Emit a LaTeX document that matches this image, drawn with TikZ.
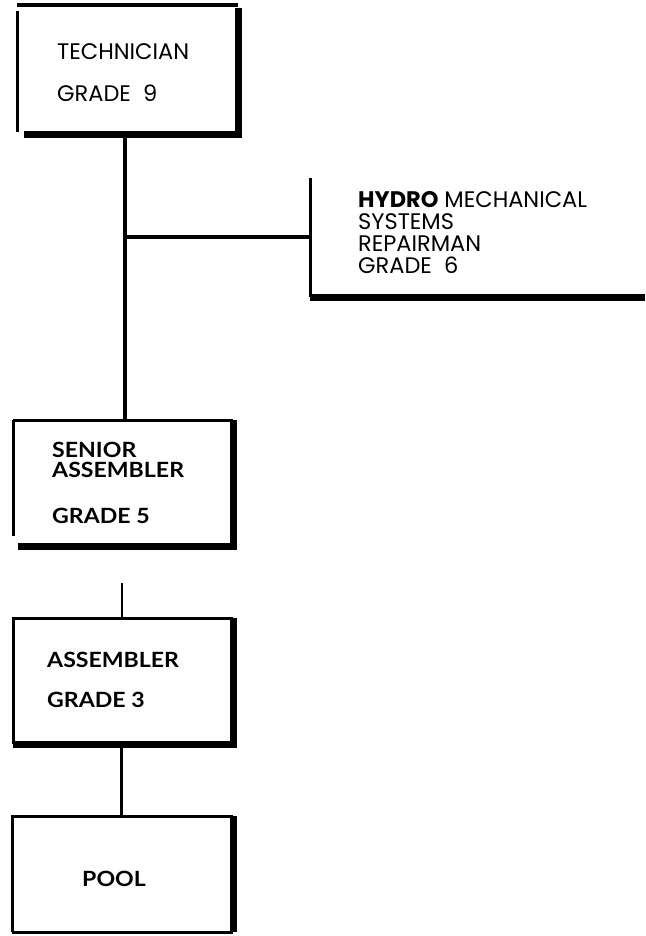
\documentclass[tikz,border=0pt]{standalone}
\usepackage{fontspec}
\setmainfont{Poppins}
\newfontfamily\boldf{Lato}[FakeStretch=1.1]
\begin{document}
\begin{tikzpicture}[x=1pt,y=-1pt,
  thin/.style={line width=3pt},
  thick/.style={line width=6.5pt},
  conn/.style={line width=4pt},
  boxnode/.style={inner sep=0pt,anchor=north west},
  ltxt/.style={anchor=base west,inner sep=0pt,font=\fontsize{22.5}{24.5}\selectfont},
  btxt/.style={anchor=base west,inner sep=0pt,font=\boldf\bfseries\fontsize{21}{21}\selectfont}]
\useasboundingbox (0,0) rectangle (645,936);
% Technician box
\node[boxnode,minimum width=221pt,minimum height=129pt] (tech) at (17,5) {};
\draw[line width=4pt] (tech.north west) -- (tech.north east);
\draw[thin] ([yshift=-6pt]tech.north west) -- ([yshift=2pt]tech.south west);
\draw[thick] ([yshift=-3pt]tech.north east) -- (tech.south east) -- ([xshift=7pt]tech.south west);
\node[ltxt] (t1) at (57,60) {TECHNICIAN};
\node[ltxt] (t2) at (57,102) {GRADE\ \ 9};
% Hydro box
\node[boxnode,minimum width=335pt,minimum height=119pt] (hydro) at (310,178) {};
\draw[thin] (hydro.north west) -- (hydro.south west);
\draw[thick] (hydro.south west) -- (hydro.south east);
\node[ltxt] (h1) at (358,207) {{\bfseries HYDRO} MECHANICAL};
\node[ltxt] (h2) at (358,229) {SYSTEMS};
\node[ltxt] (h3) at (358,251) {REPAIRMAN};
\node[ltxt] (h4) at (358,273) {GRADE\ \ 6};
% Senior assembler
\node[boxnode,minimum width=220pt,minimum height=126pt] (senior) at (13,420) {};
\draw[thin] (senior.north west) -- (senior.north east);
\draw[thin] (senior.north west) -- ([yshift=10pt]senior.south west);
\draw[thick] (senior.north east) -- (senior.south east) -- ([xshift=5pt]senior.south west);
\node[btxt] (s1) at (52,457) {SENIOR};
\node[btxt] (s2) at (52,477) {ASSEMBLER};
\node[btxt] (s3) at (52,523) {GRADE 5};
% Assembler
\node[boxnode,minimum width=220pt,minimum height=126pt] (asm) at (13,618) {};
\draw[thin] (asm.south west) -- (asm.north west) -- (asm.north east);
\draw[thick] (asm.north east) -- (asm.south east) -- (asm.south west);
\node[btxt] (a1) at (47,667) {ASSEMBLER};
\node[btxt] (a2) at (47,707) {GRADE 3};
% Pool
\node[boxnode,minimum width=221pt,minimum height=116pt] (pool) at (12,816) {};
\draw[thin] (pool.south west) -- (pool.north west) -- (pool.north east);
\draw[thin] (pool.south west) -- (pool.south east);
\draw[thick] (pool.north east) -- (pool.south east);
\node[btxt] (p1) at (82,886) {POOL};
% connectors
\coordinate (j) at (125,237);
\draw[conn] (tech.south -| j) -- (senior.north -| j);
\draw[conn] (j) -- (hydro.west |- j);
\coordinate (k1) at (122,583);
\draw[line width=2.5pt] (k1) -- (asm.north -| k1);
\coordinate (k2) at (121,744);
\draw[line width=3pt] (k2) -- (pool.north -| k2);
\end{tikzpicture}
\end{document}
